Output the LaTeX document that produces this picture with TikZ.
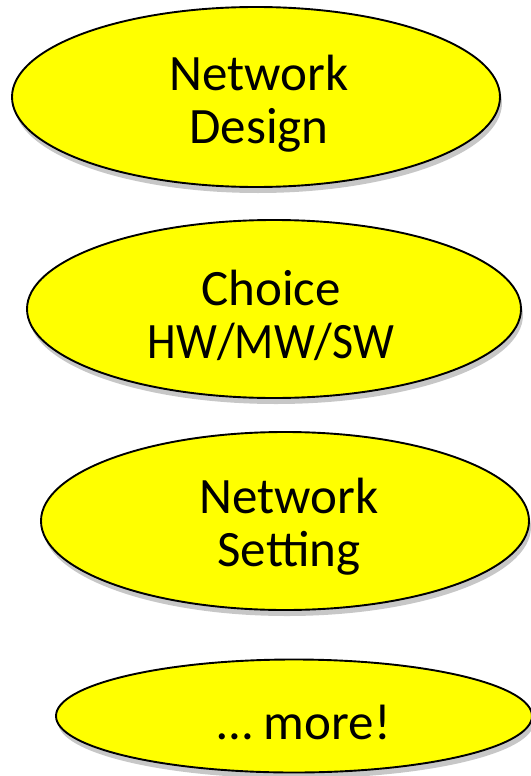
\documentclass[tikz,border=0pt]{standalone}
\usepackage{fontspec}
\setmainfont{Carlito}
\usetikzlibrary{shapes.geometric,shadows}
\definecolor{bubblefill}{RGB}{255,255,0}
\tikzset{
  bubble/.style={ellipse, draw=black, line width=1.9pt, fill=bubblefill, inner sep=0pt,
    drop shadow={shadow xshift=2pt, shadow yshift=-6pt, fill=black, opacity=0.22}},
  label/.style={inner sep=0pt, align=center, font=\fontsize{51}{53}\selectfont},
}
\begin{document}
\begin{tikzpicture}[x=1pt,y=-1pt]
\useasboundingbox[fill=white] (0,0) rectangle (530,776);
\node[bubble, minimum width=488pt, minimum height=180pt] (b1) at (256,97) {};
\node[label] at (259,104) (t1) {Network\\Design};
\node[bubble, minimum width=494pt, minimum height=178pt] (b2) at (274,309) {};
\node[label] at (271,315) (t2) {Choice\\\scalebox{0.9}[1]{HW/MW/SW}};
\node[bubble, minimum width=488pt, minimum height=178pt] (b3) at (285,521) {};
\node[label] at (289,527) (t3) {Network\\Setting};
\node[bubble, minimum width=476pt, minimum height=113pt] (b4) at (294,716) {};
\node[label] at (304,722) (t4) {… more!};
\end{tikzpicture}
\end{document}
